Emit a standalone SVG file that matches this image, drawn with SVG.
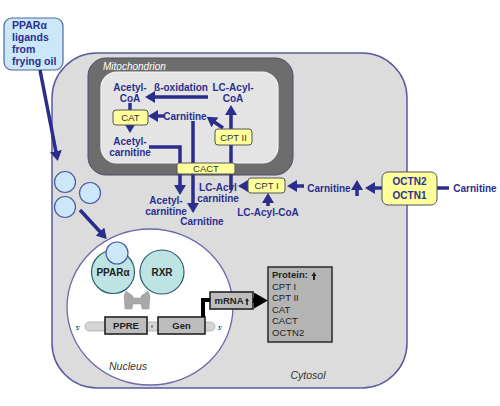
<svg xmlns="http://www.w3.org/2000/svg" width="500" height="406" viewBox="0 0 500 406">
<defs>
<style>
.lbl{font-family:"Liberation Sans",Arial,sans-serif;font-weight:bold;font-size:10px;fill:#2b2f8f;text-anchor:middle}
.box{fill:#ffff9c;stroke:#555;stroke-width:1}
.btxt{font-family:"Liberation Sans",Arial,sans-serif;font-size:9.5px;fill:#333;text-anchor:middle}
.ln{fill:none;stroke:#2a2d8c;stroke-width:3.5}
.arr{fill:none;stroke:#2a2d8c;stroke-width:3.5;marker-end:url(#ah)}
.ital{font-family:"Liberation Sans",Arial,sans-serif;font-style:italic;font-size:10.5px;fill:#333;text-anchor:middle}
.drop{fill:#cce8f8;stroke:#4a5aa0;stroke-width:1.2}
.gbox{fill:#bdbdbd;stroke:#222;stroke-width:1.6}
.gtxt{font-family:"Liberation Sans",Arial,sans-serif;font-weight:bold;font-size:9.5px;fill:#222;text-anchor:middle}
.ptxt{font-family:"Liberation Sans",Arial,sans-serif;font-size:9.5px;fill:#222}
</style>
<marker id="ah" viewBox="0 0 10 12" refX="6" refY="6" markerUnits="userSpaceOnUse" markerWidth="10" markerHeight="12" orient="auto">
<path d="M0,0 L10,6 L0,12 z" fill="#2a2d8c"/>
</marker>
<marker id="ahb" viewBox="0 0 10 10" refX="3" refY="5" markerUnits="userSpaceOnUse" markerWidth="14" markerHeight="16" orient="auto" preserveAspectRatio="none">
<path d="M0,0 L10,5 L0,10 z" fill="#000"/>
</marker>
</defs>
<rect width="500" height="406" fill="#fff"/>

<g id="cell">
<rect x="52" y="53" width="355" height="335" rx="45" fill="#dcdcdc" stroke="#5a5aa0" stroke-width="1.5"/>
<text class="ital" x="308" y="379" font-size="11">Cytosol</text>
</g>

<g id="mitochondrion">
<rect x="88" y="58" width="205" height="117" rx="18" fill="#6d6d6d" stroke="#4a4a6a" stroke-width="1"/>
<rect x="101" y="72" width="177" height="91" rx="16" fill="#e4e4e4" stroke="#f4f4f4" stroke-width="1.2"/>
<text x="103" y="70" font-family="Liberation Sans,Arial,sans-serif" font-style="italic" font-size="10px" fill="#fff">Mitochondrion</text>
</g>

<g id="ligands">
<rect x="4" y="18" width="59" height="52" rx="8" fill="#cce8f8" stroke="#4a6a9a" stroke-width="1.2"/>
<text x="12" y="29" font-family="Liberation Sans,Arial,sans-serif" font-weight="bold" font-size="10.5px" fill="#2b2f8f">PPARα</text>
<text x="12" y="41" font-family="Liberation Sans,Arial,sans-serif" font-weight="bold" font-size="10.5px" fill="#2b2f8f">ligands</text>
<text x="12" y="53" font-family="Liberation Sans,Arial,sans-serif" font-weight="bold" font-size="10.5px" fill="#2b2f8f">from</text>
<text x="12" y="65" font-family="Liberation Sans,Arial,sans-serif" font-weight="bold" font-size="10.5px" fill="#2b2f8f">frying oil</text>
</g>

<g id="droplets">
<circle class="drop" cx="65" cy="182" r="10.5"/>
<circle class="drop" cx="90" cy="193" r="10.5"/>
<circle class="drop" cx="65" cy="207" r="10.5"/>
</g>

<g id="nucleus">
<ellipse cx="150" cy="307" rx="83" ry="78" fill="#fff" stroke="#6a6aaa" stroke-width="1.3"/>
<text class="ital" x="128" y="370">Nucleus</text>
</g>

<g id="receptors">
<path d="M126,291 L133,296 L133,298 L141,298 L141,296 L148,291 L150,296 L149,309 L142,309 L141,304 L133,304 L132,309 L125,309 L124,296 z" fill="#a8a8a8" stroke="#999" stroke-width="0.5"/>
<circle cx="113" cy="272" r="21.5" fill="#bde3e3" stroke="#2a5e6a" stroke-width="1.2"/>
<circle cx="162" cy="272" r="22" fill="#bde3e3" stroke="#2a5e6a" stroke-width="1.2"/>
<circle class="drop" cx="117" cy="253" r="11"/>
<text x="113" y="276" font-family="Liberation Sans,Arial,sans-serif" font-weight="bold" font-size="10px" fill="#222" text-anchor="middle">PPARα</text>
<text x="162" y="276" font-family="Liberation Sans,Arial,sans-serif" font-weight="bold" font-size="10px" fill="#222" text-anchor="middle">RXR</text>
</g>

<g id="dna">
<rect x="85" y="322" width="130" height="9" rx="4.5" fill="#d4d4d4" stroke="#aaa" stroke-width="0.8"/>
<text x="78" y="330" font-family="Liberation Serif,serif" font-weight="bold" font-size="6px" fill="#222" text-anchor="middle">5'</text>
<text x="220" y="330" font-family="Liberation Serif,serif" font-weight="bold" font-size="6px" fill="#222" text-anchor="middle">3'</text>
<circle cx="152" cy="326.5" r="1" fill="#555"/>
</g>

<g id="ppre">
<rect class="gbox" x="105" y="317" width="42" height="17"/>
<text class="gtxt" x="126" y="329">PPRE</text>
</g>
<g id="gen">
<rect class="gbox" x="158" y="317" width="47" height="17"/>
<text class="gtxt" x="181.5" y="329">Gen</text>
</g>
<g id="mrna">
<rect class="gbox" x="210" y="292" width="43" height="17"/>
<text class="gtxt" x="229" y="304">mRNA</text>
<path d="M247,298 L249,301 L247.8,301 L247.8,305 L246.2,305 L246.2,301 L245,301 z" fill="#222"/>
</g>
<g id="protein">
<rect x="268" y="267" width="64" height="75" fill="#b4b4b4" stroke="#333" stroke-width="1.6"/>
<text x="272" y="278" font-family="Liberation Sans,Arial,sans-serif" font-weight="bold" font-size="9.5px" fill="#222">Protein:</text>
<path d="M314,272 L316.5,276 L315,276 L315,280 L313,280 L313,276 L311.5,276 z" fill="#222"/>
<text class="ptxt" x="272" y="289.5">CPT I</text>
<text class="ptxt" x="272" y="301">CPT II</text>
<text class="ptxt" x="272" y="312.5">CAT</text>
<text class="ptxt" x="272" y="324">CACT</text>
<text class="ptxt" x="272" y="335.5">OCTN2</text>
</g>

<g id="connectors">
<path d="M40,70 L57,157" class="arr"/>
<path d="M80,210 L104,236" class="arr"/>
<path d="M203,317 V300 H210" fill="none" stroke="#000" stroke-width="4"/>
<path d="M253,300.5 H258" fill="none" stroke="#000" stroke-width="5" marker-end="url(#ahb)"/>
<path d="M208,97 H149" class="arr"/>
<path d="M130,103 V110" class="ln"/>
<path d="M130,125 V129" class="arr"/>
<path d="M164,116 H152" class="arr"/>
<path d="M223,128 L210,119" class="arr"/>
<path d="M231,190 V109" class="arr"/>
<path d="M149,147 H180 V191" class="arr"/>
<path d="M193,121 V209" class="arr"/>
<path d="M248,186 H242" class="arr"/>
<path d="M268,206 V197" class="arr"/>
<path d="M304,186 H291" class="arr"/>
<path d="M357,196 V184" class="arr"/>
<path d="M382,188 H369" class="arr"/>
<path d="M437,188 H449" class="ln"/>
</g>

<g id="labels">
<text class="lbl" x="130" y="91">Acetyl-</text>
<text class="lbl" x="130" y="102">CoA</text>
<text class="lbl" x="181" y="91">ß-oxidation</text>
<text class="lbl" x="233" y="91">LC-Acyl-</text>
<text class="lbl" x="233" y="102">CoA</text>
<text class="lbl" x="185" y="120">Carnitine</text>
<text class="lbl" x="130" y="145">Acetyl-</text>
<text class="lbl" x="130" y="156">carnitine</text>
<text class="lbl" x="166" y="204">Acetyl-</text>
<text class="lbl" x="166" y="215">carnitine</text>
<text class="lbl" x="202" y="225">Carnitine</text>
<text class="lbl" x="218" y="191">LC-Acyl</text>
<text class="lbl" x="218" y="202">carnitine</text>
<text class="lbl" x="268" y="216">LC-Acyl-CoA</text>
<text class="lbl" x="329" y="192">Carnitine</text>
<text class="lbl" x="475" y="192">Carnitine</text>
</g>

<g id="cat"><rect class="box" x="113" y="110" width="35" height="15" rx="3"/><text class="btxt" x="130.5" y="121">CAT</text></g>
<g id="cpt2"><rect class="box" x="215" y="129" width="37" height="16" rx="3"/><text class="btxt" x="233.5" y="140.5">CPT II</text></g>
<g id="cact"><rect class="box" x="177" y="163" width="58" height="11" rx="2"/><text class="btxt" x="206" y="172">CACT</text></g>
<g id="cpt1"><rect class="box" x="248" y="178" width="37" height="15" rx="3"/><text class="btxt" x="266.5" y="189">CPT I</text></g>
<g id="octn">
<rect class="box" x="382" y="172" width="55" height="33" rx="6" stroke-width="1.2"/>
<text class="lbl" x="409.5" y="185" font-size="12px">OCTN2</text>
<text class="lbl" x="409.5" y="199" font-size="12px">OCTN1</text>
</g>
</svg>
